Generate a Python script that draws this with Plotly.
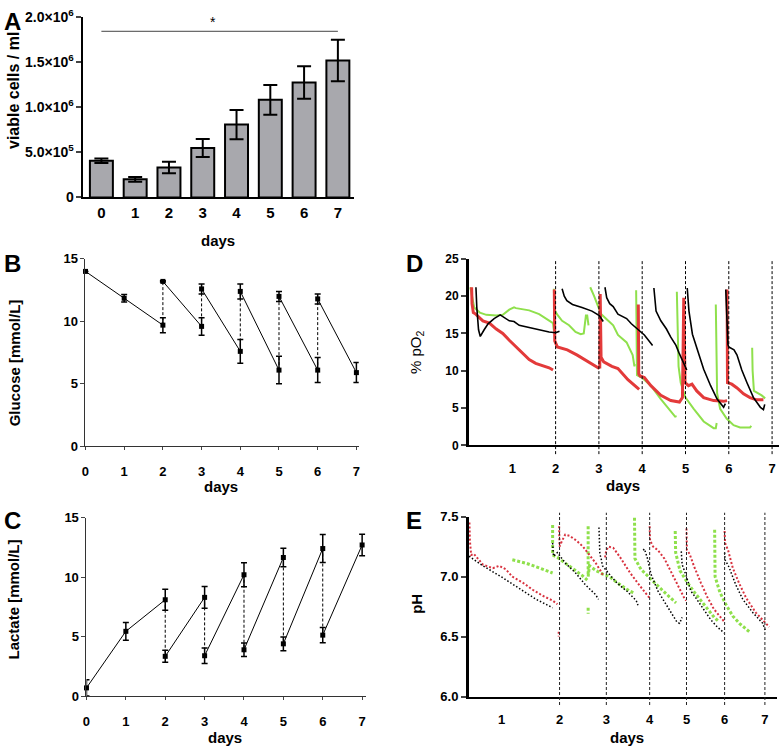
import plotly.graph_objects as go

W, H = 783, 754
FONT = "Arial, Liberation Sans, Helvetica, sans-serif"

# ---------------- Panel A: viable cells ----------------
A_days = [0, 1, 2, 3, 4, 5, 6, 7]
A_cells = [4.05e5, 2.0e5, 3.32e5, 5.48e5, 8.07e5, 1.081e6, 1.272e6, 1.517e6]
A_sem = [0.25e5, 0.27e5, 0.63e5, 1.0e5, 1.62e5, 1.65e5, 1.8e5, 2.3e5]
A_yticks = [0, 5e5, 1e6, 1.5e6, 2e6]
A_yticktext = ["0", "5.0×10<sup>5</sup>", "1.0×10<sup>6</sup>", "1.5×10<sup>6</sup>", "2.0×10<sup>6</sup>"]
A_sig_days = [0, 7]
A_sig_level = 1.84e6

# ---------------- Panel B: glucose ----------------
B_days = [0, 1, 2, 2, 3, 3, 4, 4, 5, 5, 6, 6, 7]
B_glucose = [14.0, 11.85, 9.7, 13.2, 9.6, 12.6, 7.6, 12.4, 6.1, 12.0, 6.1, 11.8, 5.9]
B_err = [0, 0.3, 0.6, 0.05, 0.7, 0.4, 0.95, 0.6, 1.1, 0.4, 1.0, 0.4, 0.8]

# ---------------- Panel C: lactate ----------------
C_days = [0, 1, 2, 2, 3, 3, 4, 4, 5, 5, 6, 6, 7]
C_lactate = [0.7, 5.45, 8.1, 3.35, 8.3, 3.4, 10.2, 3.9, 11.65, 4.4, 12.4, 5.13, 12.7]
C_err = [0.68, 0.75, 0.88, 0.5, 0.92, 0.65, 1.0, 0.57, 0.78, 0.58, 1.17, 0.64, 0.9]

# ---------------- Panel D: % pO2 (time in days) ----------------
D_red_t = [0.06, 0.07, 0.10, 0.154, 0.32, 0.47, 0.63, 0.78, 0.93, 1.085, 1.24, 1.39, 1.54, 1.70, 1.85, 1.94, None,
           1.97, 1.98, 2.04, 2.27, 2.50, 2.77, 2.96, 3.01, None,
           3.02, 3.03, 3.05, 3.11, 3.30, 3.44, 3.67, 3.90, 3.93, None,
           3.91, 3.92, 3.95, 4.05, 4.20, 4.43, 4.66, 4.86, 4.93, 4.96, 4.99, 5.07, 5.15, 5.26, 5.42, 5.65, 5.88, 5.96, None,
           5.96, 5.97, 6.07, 6.19, 6.34, 6.49, 6.64, 6.80]
D_red_v = [21.2, 19.0, 17.8, 17.6, 16.7, 16.4, 15.6, 15.0, 14.1, 13.2, 12.3, 11.5, 11.0, 10.7, 10.4, 10.1, None,
           20.9, 14.0, 13.2, 12.8, 12.1, 11.2, 10.5, 10.3, None,
           10.3, 20.3, 11.8, 11.2, 10.6, 10.3, 8.8, 7.6, 7.5, None,
           18.9, 9.6, 9.3, 9.1, 8.0, 6.7, 6.0, 5.8, 6.4, 19.8, 8.4, 8.0, 8.2, 7.3, 6.4, 6.0, 5.9, 6.0, None,
           20.9, 8.4, 8.2, 7.7, 6.9, 6.4, 6.1, 6.1]

D_green_t = [0.03, 0.12, 0.25, 0.40, 0.63, 0.78, 0.93, 1.04, 1.085, 1.39, 1.62, 1.81, 1.94, 1.96, None,
             1.96, 1.97, 2.03, 2.15, 2.31, 2.46, 2.58, 2.65, 2.70, 2.73, 2.76, None,
             2.80, 2.89, 3.05, 3.33, 3.44, 3.64, 3.78, 3.82, 3.83, None,
             3.86, 3.87, 3.88, 4.01, 4.20, 4.43, 4.66, 4.77, 4.78, None,
             4.80, 4.82, 4.84, 4.89, 5.00, 5.19, 5.42, 5.65, 5.70, 5.72, None,
             5.70, 5.71, 5.73, 5.80, 5.95, 6.11, 6.26, 6.49, 6.52, None,
             6.54, 6.55, 6.58, 6.65, 6.76, 6.84]
D_green_v = [21.2, 18.5, 17.8, 17.5, 17.4, 17.5, 18.2, 18.5, 18.4, 18.1, 17.6, 16.9, 16.4, 15.4, None,
             21.0, 18.3, 17.6, 16.7, 16.1, 15.2, 14.9, 15.0, 17.4, 17.4, 16.1, None,
             21.2, 20.0, 17.6, 16.1, 14.8, 13.8, 12.1, 10.6, 10.9, None,
             20.8, 15.0, 9.4, 9.0, 8.0, 6.2, 4.5, 3.8, 4.0, None,
             20.6, 14.0, 10.6, 8.4, 6.4, 4.9, 3.2, 2.3, 2.3, 3.0, None,
             18.9, 10.0, 7.0, 4.9, 3.6, 2.7, 2.4, 2.4, 2.6, None,
             13.1, 10.0, 7.3, 7.1, 6.7, 6.3]

D_black_t = [0.16, 0.18, 0.22, 0.26, 0.35, 0.44, 0.58, 0.72, 0.93, 1.04, 1.16, 1.39, 1.62, 1.85, 2.00, 2.09, None,
             2.15, 2.20, 2.26, 2.39, 2.61, 2.84, 3.01, 3.10, None,
             3.14, 3.18, 3.25, 3.33, 3.44, 3.64, 3.75, 3.94, 4.05, 4.24, None,
             4.27, 4.30, 4.32, 4.43, 4.56, 4.66, 4.78, 4.85, 4.97, 5.03, None,
             5.04, 5.06, 5.08, 5.16, 5.27, 5.42, 5.58, 5.73, 5.88, 5.92, None,
             5.93, 5.95, 5.98, 6.00, 6.12, 6.19, 6.30, 6.42, 6.57, 6.73, 6.80, 6.83]
D_black_v = [21.2, 18.5, 15.5, 14.6, 15.5, 16.3, 17.0, 17.5, 16.7, 16.6, 16.1, 15.8, 15.4, 15.2, 15.1, 15.3, None,
             21.0, 20.0, 19.4, 18.9, 18.5, 18.0, 17.4, 16.6, None,
             21.2, 19.8, 19.0, 18.6, 17.6, 17.0, 16.3, 15.4, 14.8, 13.4, None,
             21.1, 19.0, 18.0, 16.7, 15.6, 14.5, 13.4, 12.4, 10.8, 10.1, None,
             21.1, 19.5, 18.0, 14.9, 12.8, 10.2, 8.0, 6.2, 5.1, 5.6, None,
             20.9, 17.0, 13.5, 13.2, 12.8, 12.1, 10.1, 8.4, 6.4, 5.1, 4.8, 5.5]
D_ticks = [1, 2, 3, 4, 5, 6, 7]
D_changes = [2, 3, 4, 5, 6, 7]

# ---------------- Panel E: pH (time axis with day marks) ----------------
E_tick_pos = [0.75, 2.09, 3.17, 4.17, 5.02, 5.90, 6.83]
E_tick_text = ["1", "2", "3", "4", "5", "6", "7"]

E_red_t = [0.01, 0.02, 0.05, 0.11, 0.32, 0.55, 0.70, 0.85, 1.00, 1.24, 1.47, 1.70, 1.93, 2.04, None,
           2.07, 2.07, None,
           2.08, 2.09, 2.15, 2.22, 2.32, 2.48, 2.63, 2.78, 2.93, 3.05, 3.10, None,
           3.14, 3.17, 3.22, 3.33, 3.49, 3.72, 3.95, 4.17, None,
           4.17, 4.18, 4.25, 4.36, 4.51, 4.66, 4.82, 4.97, 5.01, None,
           5.02, 5.03, 5.09, 5.20, 5.35, 5.50, 5.65, 5.80, 5.90, None,
           5.90, 5.91, 5.98, 6.09, 6.24, 6.40, 6.62, 6.85, 6.93]
E_red_v = [7.45, 7.30, 7.18, 7.19, 7.10, 7.07, 7.09, 7.06, 7.00, 6.95, 6.89, 6.84, 6.80, 6.77, None,
           6.54, 6.50, None,
           7.42, 7.25, 7.30, 7.35, 7.34, 7.30, 7.25, 7.18, 7.11, 7.04, 7.00, None,
           7.16, 7.22, 7.25, 7.24, 7.16, 7.03, 6.92, 6.82, None,
           7.42, 7.30, 7.25, 7.22, 7.15, 7.04, 6.93, 6.82, 6.80, None,
           7.40, 7.22, 7.19, 7.08, 6.95, 6.83, 6.73, 6.66, 6.62, None,
           7.38, 7.28, 7.22, 7.07, 6.94, 6.82, 6.70, 6.61, 6.58]

E_black_t = [0.00, 0.32, 0.78, 1.24, 1.55, 1.77, 1.93, None,
             1.93, 1.95, 2.04, 2.23, 2.46, 2.69, 2.92, 2.99, None,
             3.00, 3.02, 3.05, 3.08, 3.24, 3.38, 3.50, 3.64, 3.86, 3.90, None,
             4.02, 4.05, 4.12, 4.20, 4.36, 4.51, 4.66, 4.80, 4.86, 4.92, None,
             4.90, 4.92, 5.02, 5.12, 5.24, 5.42, 5.58, 5.73, 5.89, None,
             5.90, 5.91, 6.00, 6.16, 6.32, 6.55, 6.78, 6.85]
E_black_v = [7.17, 7.09, 6.99, 6.88, 6.81, 6.77, 6.74, None,
             7.28, 7.17, 7.20, 7.11, 7.03, 6.93, 6.85, 6.81, None,
             7.41, 7.19, 7.15, 7.09, 7.02, 6.96, 6.92, 6.88, 6.80, 6.76, None,
             7.22, 7.23, 7.15, 7.02, 6.88, 6.79, 6.70, 6.62, 6.61, 6.66, None,
             7.21, 7.10, 7.00, 6.88, 6.82, 6.72, 6.64, 6.58, 6.53, None,
             7.20, 7.14, 7.08, 6.93, 6.81, 6.70, 6.61, 6.54]

E_green_t = [1.00, 1.33, 1.64, 1.87, 1.93, None,
             1.93, 1.93, 2.04, 2.16, 2.31, 2.46, 2.61, 2.73, None,
             2.75, 2.75, 2.78, 2.93, 3.09, 3.24, 3.38, 3.53, 3.70, 3.83, None,
             2.75, 2.75, None,
             3.82, 3.83, 3.97, 4.13, 4.28, 4.51, 4.74, 4.78, None,
             4.76, 4.77, 4.87, 5.04, 5.20, 5.35, 5.51, 5.66, 5.75, None,
             5.67, 5.68, 5.79, 5.94, 6.09, 6.24, 6.47, 6.50]
E_green_v = [7.14, 7.11, 7.07, 7.04, 7.03, None,
             7.43, 7.18, 7.16, 7.13, 7.09, 7.05, 7.01, 6.97, None,
             7.42, 7.00, 7.09, 7.05, 7.02, 7.00, 6.96, 6.92, 6.88, 6.86, None,
             6.74, 6.69, None,
             7.49, 7.15, 7.06, 7.00, 6.95, 6.87, 6.79, 6.78, None,
             7.38, 7.20, 7.05, 6.95, 6.87, 6.80, 6.72, 6.66, 6.63, None,
             7.39, 7.00, 6.87, 6.76, 6.67, 6.61, 6.54, 6.53]

RED = "#e33a3a"
RED_E = "#d8323f"
GREEN = "#8fe04c"
BAR = "#a8a8ad"


def px(xp):
    return xp / W


def py(yp):
    return 1 - yp / H


def split_pairs(xs, ys):
    sx, sy, dx, dy = [], [], [], []
    for i in range(len(xs) - 1):
        if xs[i] == xs[i + 1]:
            dx += [xs[i], xs[i + 1], None]
            dy += [ys[i], ys[i + 1], None]
        else:
            sx += [xs[i], xs[i + 1], None]
            sy += [ys[i], ys[i + 1], None]
    return sx, sy, dx, dy


fig = go.Figure()

# Panel A
fig.add_trace(go.Bar(x=A_days, y=A_cells, width=0.68, xaxis="x", yaxis="y",
                     marker=dict(color=BAR, line=dict(color="black", width=2)),
                     error_y=dict(type="data", array=A_sem, color="black", thickness=2, width=7),
                     showlegend=False))
fig.add_trace(go.Scatter(x=A_sig_days, y=[A_sig_level] * 2, mode="lines", xaxis="x", yaxis="y",
                         line=dict(color="#444", width=1), showlegend=False, cliponaxis=False))

# Panels B, C
for (xs, ys, es, xa, ya) in [(B_days, B_glucose, B_err, "x2", "y2"), (C_days, C_lactate, C_err, "x3", "y3")]:
    sx, sy, dx, dy = split_pairs(xs, ys)
    fig.add_trace(go.Scatter(x=sx, y=sy, mode="lines", xaxis=xa, yaxis=ya,
                             line=dict(color="black", width=1), showlegend=False, cliponaxis=False))
    fig.add_trace(go.Scatter(x=dx, y=dy, mode="lines", xaxis=xa, yaxis=ya,
                             line=dict(color="black", width=1, dash="3px,2px"), showlegend=False, cliponaxis=False))
    fig.add_trace(go.Scatter(x=xs, y=ys, mode="markers", xaxis=xa, yaxis=ya,
                             marker=dict(symbol="square", size=5, color="black"),
                             error_y=dict(type="data", array=es, color="black", thickness=1.5, width=3),
                             showlegend=False, cliponaxis=False))

# Panel D
fig.add_trace(go.Scatter(x=D_green_t, y=D_green_v, mode="lines", xaxis="x4", yaxis="y4",
                         line=dict(color=GREEN, width=2), showlegend=False))
fig.add_trace(go.Scatter(x=D_red_t, y=D_red_v, mode="lines", xaxis="x4", yaxis="y4",
                         line=dict(color=RED, width=3), showlegend=False))
fig.add_trace(go.Scatter(x=D_black_t, y=D_black_v, mode="lines", xaxis="x4", yaxis="y4",
                         line=dict(color="black", width=1.6), showlegend=False))

# Panel E
fig.add_trace(go.Scatter(x=E_green_t, y=E_green_v, mode="lines", xaxis="x5", yaxis="y5",
                         line=dict(color=GREEN, width=3, dash="3px,2px"), showlegend=False))
fig.add_trace(go.Scatter(x=E_red_t, y=E_red_v, mode="lines", xaxis="x5", yaxis="y5",
                         line=dict(color=RED_E, width=2, dash="2px,2px"), showlegend=False))
fig.add_trace(go.Scatter(x=E_black_t, y=E_black_v, mode="lines", xaxis="x5", yaxis="y5",
                         line=dict(color="black", width=1.5, dash="1.5px,2px"), showlegend=False))

shapes = []
for d in D_changes:
    shapes.append(dict(type="line", xref="x4", yref="paper", x0=d, x1=d, y0=py(455), y1=py(257),
                       line=dict(color="black", width=1, dash="3px,2px")))
for d in E_tick_pos[1:]:
    shapes.append(dict(type="line", xref="x5", yref="paper", x0=d, x1=d, y0=py(712), y1=py(515),
                       line=dict(color="#222", width=1, dash="3px,2px")))


def tfont(size, weight="bold"):
    return dict(family=FONT, size=size, color="#000000", weight=weight)


base = dict(showgrid=False, zeroline=False, showline=True, mirror=False)

layout = dict(
    width=W, height=H, margin=dict(l=0, r=0, t=0, b=0),
    paper_bgcolor="white", plot_bgcolor="white", font=dict(family=FONT, color="#000000"),
    showlegend=False, shapes=shapes,
    xaxis=dict(domain=[px(80), px(352)], range=[-0.53, 7.47], anchor="y", tickvals=A_days,
               ticks="", linewidth=2, linecolor="black", tickfont=tfont(15), ticklabelstandoff=1, **base),
    yaxis=dict(domain=[py(192), py(7)], range=[0, 2e6], anchor="x", tickvals=A_yticks,
               ticktext=A_yticktext, ticks="outside", ticklen=5, tickwidth=2, linewidth=2, linecolor="black",
               tickfont=tfont(14), **base),
    xaxis2=dict(domain=[px(82), px(357)], range=[0, 7.06], anchor="y2", tickvals=list(range(8)),
                ticks="outside", ticklen=3, linewidth=1, linecolor="#333", tickfont=tfont(13),
                ticklabelstandoff=10, **base),
    yaxis2=dict(domain=[py(447), py(255)], range=[0, 15], anchor="x2", tickvals=[0, 5, 10, 15],
                ticks="outside", ticklen=4, linewidth=1, linecolor="#333", tickfont=tfont(13), **base),
    xaxis3=dict(domain=[px(83), px(364)], range=[0, 7.09], anchor="y3", tickvals=list(range(8)),
                ticks="outside", ticklen=3, linewidth=1, linecolor="#333", tickfont=tfont(13),
                ticklabelstandoff=10, **base),
    yaxis3=dict(domain=[py(703), py(520)], range=[0, 15], anchor="x3", tickvals=[0, 5, 10, 15],
                ticks="outside", ticklen=4, linewidth=1, linecolor="#333", tickfont=tfont(13), **base),
    xaxis4=dict(domain=[px(468), px(780)], range=[0, 7.16], anchor="y4", tickvals=D_ticks,
                ticks="", linewidth=2, linecolor="black", tickfont=tfont(13), ticklabelstandoff=10, **base),
    yaxis4=dict(domain=[py(446), py(255)], range=[0, 25], anchor="x4", tickvals=[0, 5, 10, 15, 20, 25],
                ticks="outside", ticklen=5, tickwidth=2, linewidth=3, linecolor="black", tickfont=tfont(12), **base),
    xaxis5=dict(domain=[px(468), px(778)], range=[0, 7.11], anchor="y5", tickvals=E_tick_pos,
                ticktext=E_tick_text, ticks="", linewidth=2, linecolor="black", tickfont=tfont(13),
                ticklabelstandoff=10, **base),
    yaxis5=dict(domain=[py(703.3), py(519)], range=[6.0, 7.5], anchor="x5", tickvals=[6.0, 6.5, 7.0, 7.5],
                tickformat=".1f", ticks="outside", ticklen=5, tickwidth=2, linewidth=3, linecolor="black",
                tickfont=tfont(13), **base),
)
fig.update_layout(**layout)


def ann(text, x, y, size, weight="bold", angle=0):
    fig.add_annotation(text=text, x=px(x), y=py(y), xref="paper", yref="paper", showarrow=False,
                       font=tfont(size, weight), textangle=angle, xanchor="center", yanchor="middle")


# panel letters
ann("A", 9, 12, 24)
ann("B", 9, 260, 24)
ann("C", 9, 523, 24)
ann("D", 413, 260, 24)
ann("E", 413, 523, 24)
# axis titles
ann("viable cells / ml", 9, 82, 16, angle=-90)
ann("days", 215, 236, 15)
ann("Glucose [mmol/L]", 10, 361, 15, angle=-90)
ann("days", 218, 488, 15)
ann("Lactate [mmol/L]", 10, 604, 15, angle=-90)
ann("days", 222, 745, 15)
ann("% pO<sub>2</sub>", 415, 350, 15, weight="normal", angle=-90)
ann("days", 623, 487, 15)
ann("pH", 415, 608, 15, angle=-90)
ann("days", 627, 745, 15)
ann("*", 210, 12, 14, weight="normal")

fig.write_html("out.html", config={"displayModeBar": False},
               post_script="document.body.style.margin='0';document.body.style.overflow='hidden';")
